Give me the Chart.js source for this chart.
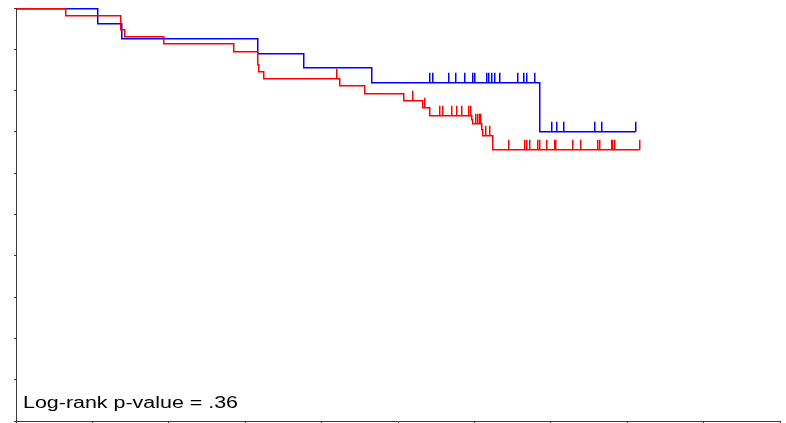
<!DOCTYPE html>
<html>
<head>
<meta charset="utf-8">
<style>
  html, body { margin: 0; padding: 0; background: #fff; overflow: hidden; }
  canvas { display: block; }
</style>
<script src="https://cdn.jsdelivr.net/npm/chart.js@4.4.1/dist/chart.umd.min.js"></script>
</head>
<body>
<canvas id="km" width="786" height="423"></canvas>
<script>
/* ---- data (time in axis units, survival 0..1) ---- */
const redTimes = [0, 0.641, 1.361, 1.418, 1.928, 2.844, 3.151, 3.158, 3.168, 3.237, 4.224, 4.555, 5.065, 5.311, 5.412,
  5.952, 5.973, 6.086, 6.106, 6.234, 8.158];
const redSurv = [1.0, 0.982, 0.948, 0.933, 0.916, 0.897, 0.881, 0.864, 0.847, 0.830, 0.814, 0.793, 0.777, 0.761, 0.742,
  0.732, 0.722, 0.707, 0.692, 0.659, 0.659];
const redCensored = [4.188, 5.179, 5.334, 5.533, 5.576, 5.690, 5.759, 5.831, 5.912, 5.936, 6.004, 6.030, 6.056, 6.073,
  6.143, 6.195, 6.444, 6.653, 6.679, 6.711, 6.815, 6.849, 6.937, 7.042, 7.059, 7.274, 7.378, 7.601, 7.631, 7.784,
  7.805, 7.823, 8.158];

const blueTimes = [0, 1.060, 1.374, 3.158, 3.760, 4.643, 6.849, 8.102];
const blueSurv = [1.0, 0.963, 0.927, 0.891, 0.858, 0.822, 0.703, 0.703];
const blueCensored = [5.410, 5.449, 5.654, 5.746, 5.864, 5.969, 5.999, 6.152, 6.182, 6.217, 6.257, 6.318, 6.554,
  6.632, 6.675, 6.780, 7.003, 7.064, 7.156, 7.569, 7.661, 8.102];

const xTicks = [0, 1, 2, 3, 4, 5, 6, 7, 8, 9, 10];
const yTicks = [0, 0.1, 0.2, 0.3, 0.4, 0.5, 0.6, 0.7, 0.8, 0.9, 1.0];
const pValueLabel = 'Log-rank p-value = .36';

const RED = '#ff0000';
const BLUE = '#0000ff';
const AXIS = '#3a3a3a';
const LINE_W = 1.5;

// one solid pixel row plus a soft half row, like the exported picture
const snap = (v) => Math.round(v) + 0.75;

/* survival at time t from a step curve */
function survAt(times, surv, t) {
  let s = surv[0];
  for (let i = 0; i < times.length; i++) if (times[i] <= t) s = surv[i];
  return s;
}

const crispSteps = {
  id: 'crispSteps',
  afterDatasetsUpdate(chart) {
    chart.data.datasets.forEach((ds, i) => {
      chart.getDatasetMeta(i).data.forEach((pt) => { pt.x = snap(pt.x); pt.y = snap(pt.y); });
    });
  },
};

/* censor marks: short vertical ticks standing on the curve */
const censorTicks = {
  id: 'censorTicks',
  afterDatasetsDraw(chart) {
    const { ctx, scales: { x, y } } = chart;
    const groups = [
      [blueCensored, blueTimes, blueSurv, BLUE],
      [redCensored, redTimes, redSurv, RED],
    ];
    ctx.save();
    ctx.lineWidth = LINE_W;
    groups.forEach(([cens, ts, ss, color]) => {
      ctx.strokeStyle = color;
      ctx.beginPath();
      cens.forEach((t) => {
        const px = snap(x.getPixelForValue(t));
        const py = snap(y.getPixelForValue(survAt(ts, ss, t)));
        ctx.moveTo(px, py);
        ctx.lineTo(px, py - 10);
      });
      ctx.stroke();
    });
    ctx.restore();
  },
};

/* p-value note, stretched wide like the original export */
const pLabel = {
  id: 'pLabel',
  afterDraw(chart) {
    const ctx = chart.ctx;
    ctx.save();
    ctx.fillStyle = '#000';
    ctx.font = '16px "Liberation Sans", Arial, sans-serif';
    const w = ctx.measureText(pValueLabel).width;
    ctx.translate(chart.chartArea.left + 7, 408);
    ctx.scale(215 / w, 1);
    ctx.fillText(pValueLabel, 0, 0);
    ctx.restore();
  },
};

const toPts = (ts, ss) => ts.map((t, i) => ({ x: t, y: ss[i] }));

new Chart(document.getElementById('km'), {
  type: 'line',
  data: {
    datasets: [
      { data: toPts(redTimes, redSurv), borderColor: RED, borderWidth: LINE_W, stepped: 'before', pointRadius: 0, fill: false },
      { data: toPts(blueTimes, blueSurv), borderColor: BLUE, borderWidth: LINE_W, stepped: 'before', pointRadius: 0, fill: false },
    ],
  },
  options: {
    responsive: false, animation: false,
    devicePixelRatio: 1,
    layout: { padding: { left: 16, top: 8, right: 6, bottom: 2 } },
    plugins: { legend: { display: false }, tooltip: { enabled: false } },
    scales: {
      x: {
        type: 'linear', min: 0, max: 10,
        afterBuildTicks: (s) => { s.ticks = xTicks.map((v) => ({ value: v })); },
        afterFit: (s) => { s.height = 0; },
        ticks: { display: false },
        grid: { drawOnChartArea: false, drawTicks: true, tickLength: 2, color: AXIS },
        border: { color: AXIS, width: 1 },
      },
      y: {
        type: 'linear', min: 0, max: 1,
        afterBuildTicks: (s) => { s.ticks = yTicks.map((v) => ({ value: v })); },
        afterFit: (s) => { s.width = 0; },
        ticks: { display: false },
        grid: { drawOnChartArea: false, drawTicks: true, tickLength: 2, color: AXIS },
        border: { color: AXIS, width: 1 },
      },
    },
  },
  plugins: [crispSteps, censorTicks, pLabel],
});
</script>
</body>
</html>
